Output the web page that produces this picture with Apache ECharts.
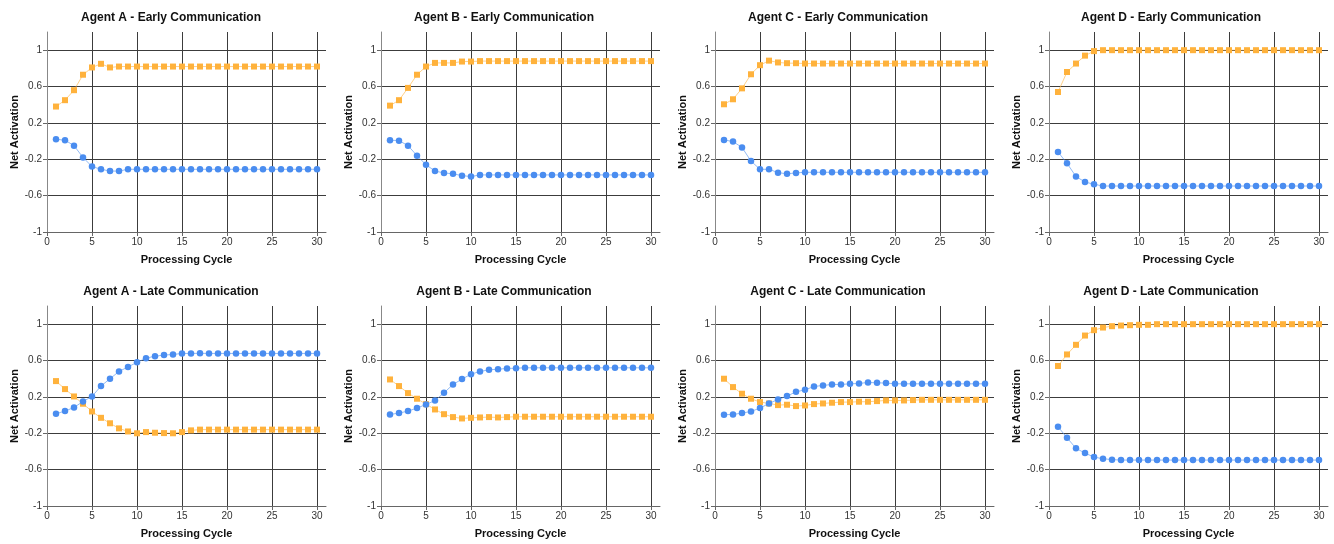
<!DOCTYPE html>
<html>
<head>
<meta charset="utf-8">
<script src="https://cdn.jsdelivr.net/npm/echarts@6/dist/echarts.min.js"></script>
<style>
html,body{margin:0;padding:0;background:#fff;}
#chart{width:1334px;height:544px;}
</style>
</head>
<body>
<div id="chart"></div>
<script>
// ---- Data ----
var cycles = [1,2,3,4,5,6,7,8,9,10,11,12,13,14,15,16,17,18,19,20,21,22,23,24,25,26,27,28,29,30];

var panelTitles = [
  "Agent A - Early Communication", "Agent B - Early Communication",
  "Agent C - Early Communication", "Agent D - Early Communication",
  "Agent A - Late Communication", "Agent B - Late Communication",
  "Agent C - Late Communication", "Agent D - Late Communication"
];

var yTickLabels = ["-1", "-0.6", "-0.2", "0.2", "0.6", "1"];
var xTickLabels = ["0", "5", "10", "15", "20", "25", "30"];

// Square (orange) series
var earlyA_square = [0.38,0.45,0.56,0.73,0.81,0.85,0.81,0.82,0.82,0.82,0.82,0.82,0.82,0.82,0.82,0.82,0.82,0.82,0.82,0.82,0.82,0.82,0.82,0.82,0.82,0.82,0.82,0.82,0.82,0.82];
var earlyB_square = [0.39,0.45,0.585,0.73,0.82,0.86,0.86,0.86,0.875,0.875,0.88,0.88,0.88,0.88,0.88,0.88,0.88,0.88,0.88,0.88,0.88,0.88,0.88,0.88,0.88,0.88,0.88,0.88,0.88,0.88];
var earlyC_square = [0.405,0.46,0.58,0.735,0.835,0.885,0.865,0.857,0.857,0.853,0.853,0.853,0.853,0.853,0.853,0.853,0.853,0.853,0.853,0.853,0.853,0.853,0.853,0.853,0.853,0.853,0.853,0.853,0.853,0.853];
var earlyD_square = [0.54,0.76,0.853,0.94,0.99,1.0,1.0,1.0,1.0,1.0,1.0,1.0,1.0,1.0,1.0,1.0,1.0,1.0,1.0,1.0,1.0,1.0,1.0,1.0,1.0,1.0,1.0,1.0,1.0,1.0];
var lateA_square = [0.374,0.286,0.205,0.125,0.04,-0.03,-0.09,-0.146,-0.18,-0.2,-0.187,-0.194,-0.198,-0.2,-0.187,-0.168,-0.16,-0.16,-0.16,-0.16,-0.16,-0.16,-0.16,-0.16,-0.16,-0.16,-0.16,-0.16,-0.16,-0.16];
var lateB_square = [0.392,0.319,0.242,0.18,0.12,0.062,0.01,-0.022,-0.037,-0.03,-0.026,-0.022,-0.026,-0.022,-0.018,-0.018,-0.018,-0.018,-0.018,-0.018,-0.018,-0.018,-0.018,-0.018,-0.018,-0.018,-0.018,-0.018,-0.018,-0.018];
var lateC_square = [0.4,0.308,0.235,0.18,0.143,0.128,0.11,0.114,0.099,0.106,0.121,0.128,0.136,0.143,0.143,0.147,0.147,0.154,0.161,0.161,0.161,0.165,0.168,0.168,0.168,0.168,0.168,0.168,0.168,0.168];
var lateD_square = [0.54,0.667,0.773,0.875,0.934,0.963,0.978,0.985,0.989,0.993,0.993,1.0,1.0,1.0,1.0,1.0,1.0,1.0,1.0,1.0,1.0,1.0,1.0,1.0,1.0,1.0,1.0,1.0,1.0,1.0];

// Circle (blue) series
var earlyA_circle = [0.02,0.01,-0.05,-0.18,-0.28,-0.31,-0.33,-0.33,-0.31,-0.31,-0.31,-0.31,-0.31,-0.31,-0.31,-0.31,-0.31,-0.31,-0.31,-0.31,-0.31,-0.31,-0.31,-0.31,-0.31,-0.31,-0.31,-0.31,-0.31,-0.31];
var earlyB_circle = [0.01,0.005,-0.05,-0.16,-0.26,-0.33,-0.35,-0.36,-0.38,-0.39,-0.372,-0.372,-0.372,-0.372,-0.372,-0.372,-0.372,-0.372,-0.372,-0.372,-0.372,-0.372,-0.372,-0.372,-0.372,-0.372,-0.372,-0.372,-0.372,-0.372];
var earlyC_circle = [0.013,-0.005,-0.07,-0.22,-0.31,-0.31,-0.347,-0.36,-0.35,-0.343,-0.343,-0.343,-0.343,-0.343,-0.343,-0.343,-0.343,-0.343,-0.343,-0.343,-0.343,-0.343,-0.343,-0.343,-0.343,-0.343,-0.343,-0.343,-0.343,-0.343];
var earlyD_circle = [-0.12,-0.244,-0.39,-0.45,-0.475,-0.494,-0.494,-0.494,-0.494,-0.494,-0.494,-0.494,-0.494,-0.494,-0.494,-0.494,-0.494,-0.494,-0.494,-0.494,-0.494,-0.494,-0.494,-0.494,-0.494,-0.494,-0.494,-0.494,-0.494,-0.494];
var lateA_circle = [0.015,0.044,0.084,0.15,0.205,0.32,0.4,0.48,0.53,0.58,0.626,0.648,0.66,0.667,0.678,0.678,0.68,0.678,0.678,0.678,0.678,0.678,0.678,0.678,0.678,0.678,0.678,0.678,0.678,0.678];
var lateB_circle = [0.007,0.022,0.044,0.077,0.117,0.16,0.245,0.337,0.396,0.45,0.48,0.498,0.505,0.513,0.516,0.52,0.52,0.52,0.52,0.52,0.52,0.52,0.52,0.52,0.52,0.52,0.52,0.52,0.52,0.52];
var lateC_circle = [0.004,0.007,0.022,0.04,0.077,0.128,0.172,0.209,0.256,0.278,0.315,0.326,0.337,0.337,0.344,0.348,0.359,0.355,0.352,0.344,0.344,0.344,0.344,0.344,0.344,0.344,0.344,0.344,0.344,0.344];
var lateD_circle = [-0.128,-0.249,-0.366,-0.418,-0.462,-0.48,-0.49,-0.495,-0.495,-0.495,-0.495,-0.495,-0.495,-0.495,-0.495,-0.495,-0.495,-0.495,-0.495,-0.495,-0.495,-0.495,-0.495,-0.495,-0.495,-0.495,-0.495,-0.495,-0.495,-0.495];

var squareSets = [earlyA_square, earlyB_square, earlyC_square, earlyD_square, lateA_square, lateB_square, lateC_square, lateD_square];
var circleSets = [earlyA_circle, earlyB_circle, earlyC_circle, earlyD_circle, lateA_circle, lateB_circle, lateC_circle, lateD_circle];

// ---- Chart ----
var FONT = "'Liberation Sans', Arial, sans-serif";
var BLUE = "#4a8df0";
var ORANGE = "#ffb23c";
var colLeft = [47, 381, 715, 1049];
var titleCenter = [166, 499, 833, 1166];
var rowTop = [32, 306];
var rowTitleTop = [7, 281];

function pairs(arr) {
  return cycles.map(function (c, i) { return [c, arr[i]]; });
}

var grids = [], xAxes = [], yAxes = [], series = [], titles = [];
for (var p = 0; p < 8; p++) {
  var col = p % 4, row = Math.floor(p / 4);
  grids.push({ left: colLeft[col], top: rowTop[row], width: 279, height: 200, containLabel: false });
  titles.push({
    text: panelTitles[p], left: titleCenter[col], top: rowTitleTop[row], textAlign: 'center',
    textStyle: { fontFamily: FONT, fontSize: 12, fontWeight: 'bold', color: '#111' }
  });
  xAxes.push({
    gridIndex: p, type: 'value', min: 0, max: 31, interval: 5,
    name: 'Processing Cycle', nameLocation: 'middle', nameGap: 22,
    nameTextStyle: { fontFamily: FONT, fontSize: 11, fontWeight: 'bold', color: '#111' },
    axisLine: { show: true, onZero: false, lineStyle: { color: '#666', width: 1 } },
    axisTick: { show: true, length: 4, lineStyle: { color: '#666' } },
    axisLabel: { showMaxLabel: false, margin: 5, fontFamily: FONT, fontSize: 10, color: '#333',
      formatter: function (v) { var i = xTickLabels.indexOf(String(v)); return i >= 0 ? xTickLabels[i] : ''; } },
    splitLine: { show: true, showMinLine: false, showMaxLine: false, lineStyle: { color: '#3c3c3c', width: 1 } }
  });
  yAxes.push({
    gridIndex: p, type: 'value', min: -1, max: 1.2, interval: 0.4,
    name: 'Net Activation', nameLocation: 'middle', nameGap: 26,
    nameTextStyle: { fontFamily: FONT, fontSize: 11, fontWeight: 'bold', color: '#111' },
    axisLine: { show: true, onZero: false, lineStyle: { color: '#888', width: 1 } },
    axisTick: { show: true, length: 4, lineStyle: { color: '#666' } },
    axisLabel: { showMaxLabel: false, margin: 5, fontFamily: FONT, fontSize: 10, color: '#333',
      formatter: function (v) {
        var s = String(Math.round(v * 10) / 10);
        return yTickLabels.indexOf(s) >= 0 ? s : '';
      } },
    splitLine: { show: true, showMinLine: false, showMaxLine: false, lineStyle: { color: '#3c3c3c', width: 1 } }
  });
  series.push({
    name: 'Square', type: 'line', xAxisIndex: p, yAxisIndex: p,
    data: pairs(squareSets[p]), symbol: 'rect', symbolSize: 6, showSymbol: true,
    itemStyle: { color: ORANGE }, lineStyle: { color: ORANGE, width: 1, opacity: 0.6 },
    animation: false, z: 3
  });
  series.push({
    name: 'Circle', type: 'line', xAxisIndex: p, yAxisIndex: p,
    data: pairs(circleSets[p]), symbol: 'circle', symbolSize: 6.5, showSymbol: true,
    itemStyle: { color: BLUE }, lineStyle: { color: BLUE, width: 1, opacity: 0.6 },
    animation: false, z: 3
  });
}

var chart = echarts.init(document.getElementById('chart'), null, { renderer: 'canvas' });
chart.setOption({
  backgroundColor: '#fff',
  animation: false,
  title: titles,
  grid: grids,
  xAxis: xAxes,
  yAxis: yAxes,
  series: series
});
</script>
</body>
</html>
